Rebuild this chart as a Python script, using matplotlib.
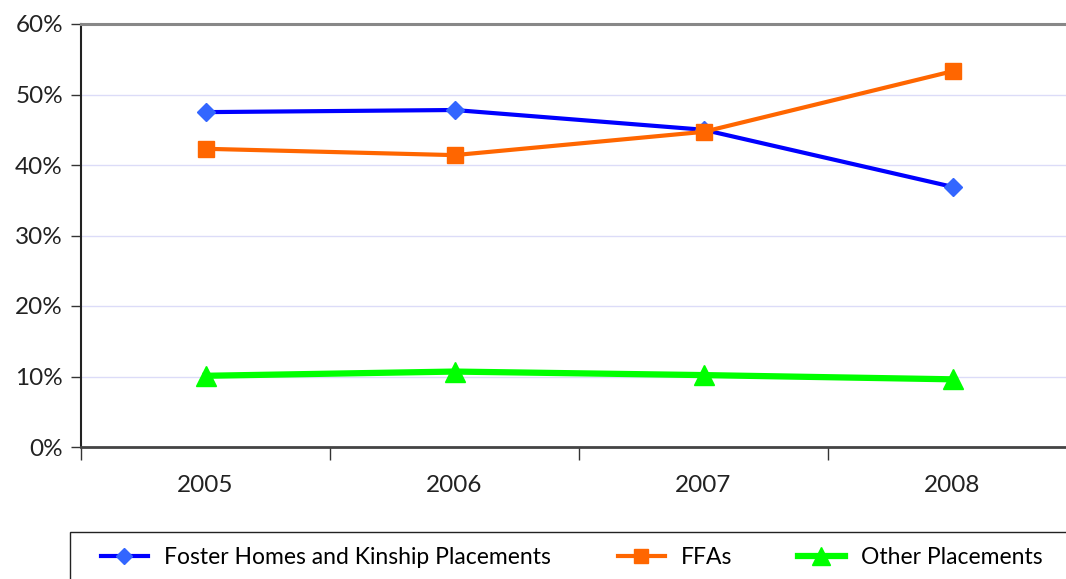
import matplotlib.pyplot as plt
from matplotlib.patches import Rectangle
from matplotlib.ticker import FixedLocator, PercentFormatter

# data
years = ['2005', '2006', '2007', '2008']
foster = [47.5, 47.8, 45.0, 36.9]
ffas = [42.3, 41.4, 44.7, 53.3]
other = [10.1, 10.7, 10.2, 9.6]

plt.rcParams['font.family'] = ['Lato', 'DejaVu Sans']

W, H = 1066, 579
fig = plt.figure(figsize=(W / 100, H / 100), dpi=100)
# axes box in pixels: left 81, right 1077 (runs off the canvas), top 24, bottom 447
ax = fig.add_axes([81 / W, 1 - 447 / H, (1077 - 81) / W, (447 - 24) / H])

x = list(range(len(years)))
l1, = ax.plot(x, foster, color='#0000FF', lw=3, marker='D', ms=9,
              mfc='#3366FF', mec='#3366FF', label='Foster Homes and Kinship Placements', zorder=3)
l2, = ax.plot(x, ffas, color='#FF6600', lw=3, marker='s', ms=12,
              mfc='#FF6600', mec='#FF6600', label='FFAs', zorder=3)
l3, = ax.plot(x, other, color='#00FF00', lw=4.5, marker='^', ms=15,
              mfc='#00FF00', mec='#00FF00', label='Other Placements', zorder=3)

ax.set_xlim(-0.5, 3.5)
ax.set_ylim(0, 60)
ax.yaxis.set_major_locator(FixedLocator([0, 10, 20, 30, 40, 50, 60]))
ax.yaxis.set_major_formatter(PercentFormatter(decimals=0))
ax.grid(axis='y', color='#DCDCF8', lw=1, zorder=0)
ax.set_axisbelow(True)

# category ticks sit between the years, labels in the middle
ax.set_xticks([-0.5, 0.5, 1.5, 2.5, 3.5])
ax.set_xticklabels([])
ax.set_xticks(x, minor=True)
ax.set_xticklabels(years, minor=True)
ax.tick_params(axis='x', which='minor', length=0, pad=20, labelsize=17.5, labelcolor='#222222')
ax.tick_params(axis='x', which='major', length=9, width=1, color='#333333', direction='out')
ax.tick_params(axis='y', length=7, width=1, pad=6, labelsize=17.5, labelcolor='#222222', color='#333333')

ax.spines['top'].set_color('#888888')
ax.spines['top'].set_linewidth(2.2)
ax.spines['right'].set_visible(False)
ax.spines['left'].set_color('#222222')
ax.spines['left'].set_linewidth(1.5)
ax.spines['bottom'].set_color('#444444')
ax.spines['bottom'].set_linewidth(2)

# legend box runs off the bottom and right edges
fig.patches.append(Rectangle((70 / W, -0.05), 1.1, (579 - 532) / H + 0.05,
                             transform=fig.transFigure, fill=False,
                             edgecolor='#222222', lw=1))
# one small legend per entry so each sits where it does in the original
for handle, xpix in [(l1, 101), (l2, 618), (l3, 798)]:
    fig.legend(handles=[handle], loc='center left', bbox_to_anchor=(xpix / W, 1 - 558 / H),
               frameon=False, fontsize=16.5, handlelength=2.05, handletextpad=0.7,
               borderpad=0, borderaxespad=0, markerscale=0.85)

fig.savefig('out.png', dpi=100)
